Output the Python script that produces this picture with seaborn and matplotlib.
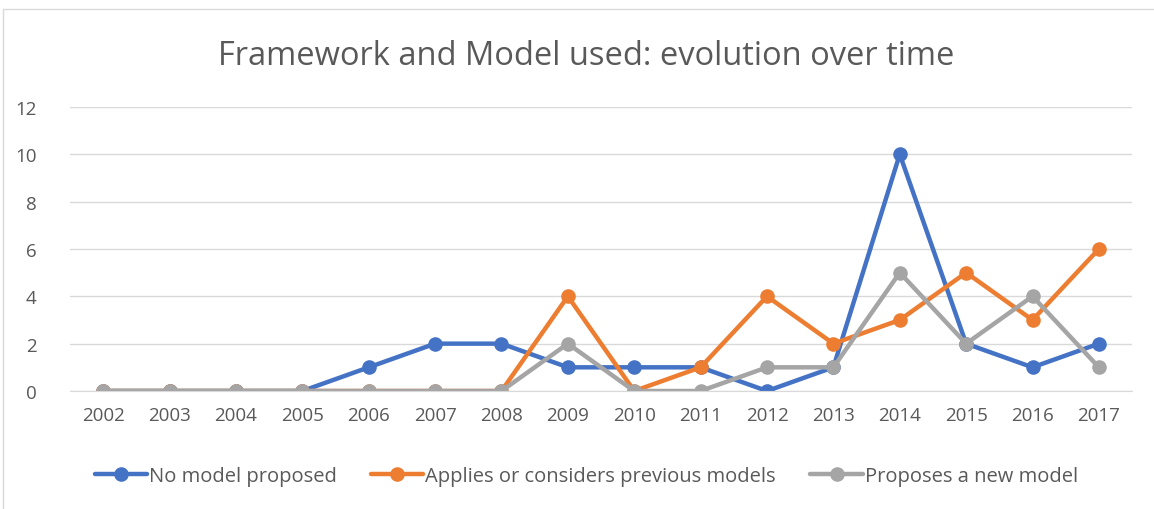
import matplotlib.pyplot as plt
import numpy as np
import pandas as pd
import seaborn as sns
from matplotlib.lines import Line2D

years = list(range(2002, 2018))
no_model = [0, 0, 0, 0, 1, 2, 2, 1, 1, 1, 0, 1, 10, 2, 1, 2]
applies_previous = [0, 0, 0, 0, 0, 0, 0, 4, 0, 1, 4, 2, 3, 5, 3, 6]
proposes_new = [0, 0, 0, 0, 0, 0, 0, 2, 0, 0, 1, 1, 5, 2, 4, 1]

series_names = [
    "No model proposed",
    "Applies or considers previous models",
    "Proposes a new model",
]
colors = ["#4472C4", "#ED7D31", "#A5A5A5"]

df = pd.DataFrame(
    {
        "year": years * 3,
        "count": no_model + applies_previous + proposes_new,
        "series": np.repeat(series_names, len(years)),
    }
)

sns.set_style("white")
plt.rcParams["font.family"] = ["Open Sans", "DejaVu Sans"]
text_color = "#595959"

fig = plt.figure(figsize=(11.54, 5.10), dpi=100)
ax = fig.add_axes([0.0607, 0.2314, 0.9203, 0.5569])

sns.lineplot(
    data=df,
    x="year",
    y="count",
    hue="series",
    hue_order=series_names,
    palette=colors,
    marker="o",
    markersize=10.5,
    markeredgewidth=0,
    linewidth=3.2,
    legend=False,
    ax=ax,
)

ax.set_xlim(2001.5, 2017.5)
ax.set_ylim(0, 12)
ax.set_xticks(years)
ax.set_xticklabels([str(y) for y in years])
ax.set_yticks(range(0, 13, 2))
ax.yaxis.grid(True, color="#D9D9D9", linewidth=1)
ax.set_axisbelow(True)
ax.tick_params(axis="both", length=0, labelsize=13.5, colors=text_color)
ax.tick_params(axis="x", pad=11)
ax.tick_params(axis="y", pad=24)
ax.set_xlabel("")
ax.set_ylabel("")
for side in ["top", "right", "left"]:
    ax.spines[side].set_visible(False)
ax.spines["bottom"].set_color("#D9D9D9")

fig.text(0.508, 0.89, "Framework and Model used: evolution over time",
         ha="center", va="center", fontsize=23.5, color=text_color)

handles = [
    Line2D([0], [0], color=c, linewidth=3.2, marker="o", markersize=10.5,
           markeredgewidth=0)
    for c in colors
]
fig.legend(handles, series_names, loc="center", bbox_to_anchor=(0.508, 0.064),
           ncol=3, frameon=False, fontsize=14.5, labelcolor=text_color,
           handlelength=2.6, handletextpad=0.1, columnspacing=1.7)

# light chart border (top and left edges)
fig.add_artist(Line2D([0.003, 1.0], [0.98, 0.98], color="#D9D9D9",
                      linewidth=1, transform=fig.transFigure))
fig.add_artist(Line2D([0.003, 0.003], [0.0, 0.98], color="#D9D9D9",
                      linewidth=1, transform=fig.transFigure))

fig.savefig("out.png", dpi=100)
